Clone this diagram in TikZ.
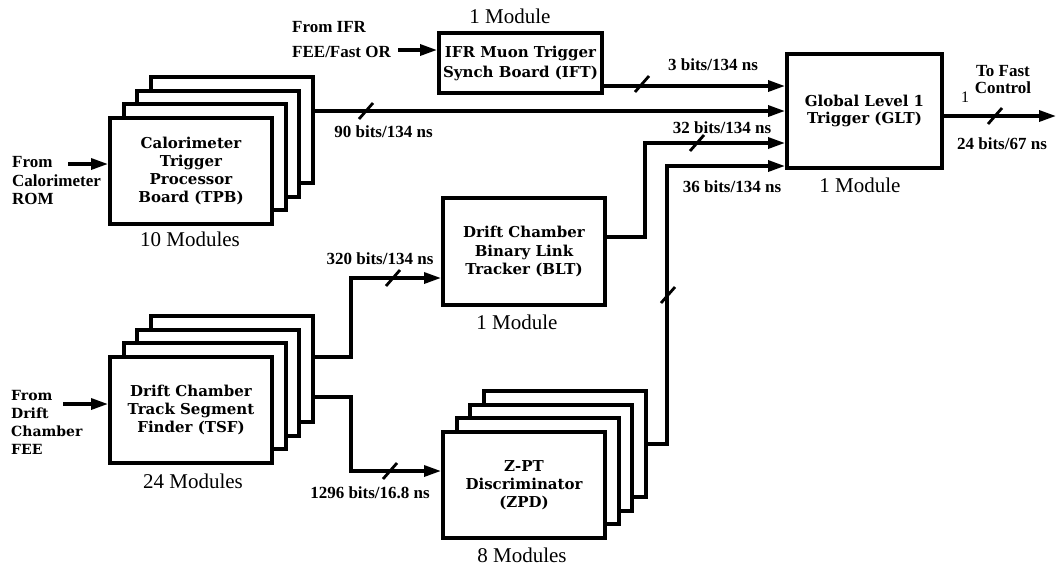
\documentclass[tikz,border=0pt]{standalone}
\usepackage{fontspec}
\setmainfont{Liberation Serif}
\newfontfamily\boardfont{DejaVu Serif}
\usetikzlibrary{arrows.meta,positioning}

\tikzset{
  board/.style={draw,line width=4pt,fill=white,inner sep=0pt,align=center,
    minimum width=162pt,minimum height=106pt,
    font=\boardfont\bfseries\fontsize{15}{18.3}\selectfont},
  sig/.style={line width=3.3pt,-{Triangle[length=17pt,width=11pt]}},
  tick/.style={line width=2.8pt},
  rate/.style={font=\bfseries\fontsize{17}{18}\selectfont},
  count/.style={font=\fontsize{21}{24}\selectfont},
  source/.style={anchor=west,inner sep=0pt,align=left,
    font=\bfseries\fontsize{17}{18.5}\selectfont},
}

\begin{document}
\begin{tikzpicture}[x=1pt,y=-1pt]
  \useasboundingbox (0,0) rectangle (1057,566);

  % Stacked boards: three copies behind each front board.
  \foreach \name/\cx/\cy in {tpb/191/171,tsf/191/410,zpd/524/485}{
    \foreach \k in {3,2,1}
      \node[board] (\name-\k) at (\cx+13.7*\k,\cy-13.7*\k) {};
  }

  % Front boards and single modules.
  \node[board] (tpb) at (191,171) {Calorimeter\\Trigger\\Processor\\Board (TPB)};
  \node[board] (tsf) at (191,410) {Drift Chamber\\Track Segment\\Finder (TSF)};
  \node[board] (zpd) at (524,485) {Z-PT\\Discriminator\\(ZPD)};
  \node[board,minimum height=107pt] (blt) at (524,251.5) {Drift Chamber\\Binary Link\\Tracker (BLT)};
  \node[board,minimum width=163pt,minimum height=60pt,
    font=\boardfont\bfseries\fontsize{15}{20}\selectfont] (ift) at (520.5,63)
    {IFR Muon Trigger\\Synch Board (IFT)};
  \node[board,minimum width=155pt,minimum height=114pt,
    font=\boardfont\bfseries\fontsize{15}{17}\selectfont] (glt) at (864.5,111)
    {Global Level 1\\Trigger (GLT)};

  % Module counts.
  \node[count] (n-ift) at (510,16) {1 Module};
  \node[count] (n-tpb) at (190,239) {10 Modules};
  \node[count] (n-glt) at (860,185) {1 Module};
  \node[count] (n-blt) at (517,322) {1 Module};
  \node[count] (n-tsf) at (193,481) {24 Modules};
  \node[count] (n-zpd) at (522,555) {8 Modules};

  % Inputs from the detector.
  \node[source] (fromcal) at (12,181) {From\\Calorimeter\\ROM};
  \node[source,font=\boardfont\bfseries\fontsize{14}{18}\selectfont] (fromdc) at (11,422)
    {From\\Drift\\Chamber\\FEE};
  \node[source,font=\bfseries\fontsize{17}{25}\selectfont] (fromifr) at (292,39.5)
    {From IFR\\FEE/Fast OR};
  \coordinate (calin) at (68,164);
  \coordinate (dcin) at (63,404);
  \coordinate (ifrin) at (398,50);
  \draw[sig] (calin) -- (calin -| tpb.west);
  \draw[sig] (dcin) -- (dcin -| tsf.west);
  \draw[sig] (ifrin) -- (ifrin -| ift.west);

  % Links from the TSF to the BLT and the ZPD.
  \coordinate (split320) at (351,278);
  \coordinate (split1296) at (351,471);
  \draw[sig] ([yshift=12pt]tsf-3.east) -| (split320) -- (split320 -| blt.west);
  \draw[sig] ([yshift=-28pt]tsf-3.east) -| (split1296) -- (split1296 -| zpd.west);

  % Links into the GLT.
  \coordinate (iftout) at ([yshift=9pt]ift.south east);
  \coordinate (bltout) at ([yshift=14.5pt]blt.east);
  \coordinate (bend32) at (645,143);
  \coordinate (bend36) at (667,166);
  \draw[sig] (iftout) -- (iftout -| glt.west);
  \draw[sig] (tpb-3.east |- glt.west) -- (glt.west);
  \draw[sig] (bltout) -| (bend32) -- (bend32 -| glt.west);
  \draw[sig] (zpd-3.east) -| (bend36) -- (bend36 -| glt.west);

  % Output to fast control.
  \coordinate (fastctl) at (1056,116);
  \draw[sig] (fastctl -| glt.east) -- (fastctl);
  \node[rate,align=center,font=\bfseries\fontsize{17}{17}\selectfont] (tofast) at (1003,80) {To Fast\\Control};
  \node[font=\fontsize{16}{18}\selectfont] (one) at (965,97) {1};

  % Bus width marks.
  \foreach \sx/\sy in {366/111,642/84,697/143,668/295,995/116,393/278,390/471}
    \draw[tick] (\sx,\sy) ++(-7,8) -- ++(14,-16);

  % Bus rates.
  \node[rate] (r90) at (383.5,132) {90 bits/134 ns};
  \node[rate] (r3) at (713,65) {3 bits/134 ns};
  \node[rate] (r32) at (722,128) {32 bits/134 ns};
  \node[rate] (r36) at (732,187) {36 bits/134 ns};
  \node[rate] (r24) at (1002,144) {24 bits/67 ns};
  \node[rate] (r320) at (380,259) {320 bits/134 ns};
  \node[rate] (r1296) at (370,493) {1296 bits/16.8 ns};
\end{tikzpicture}
\end{document}
